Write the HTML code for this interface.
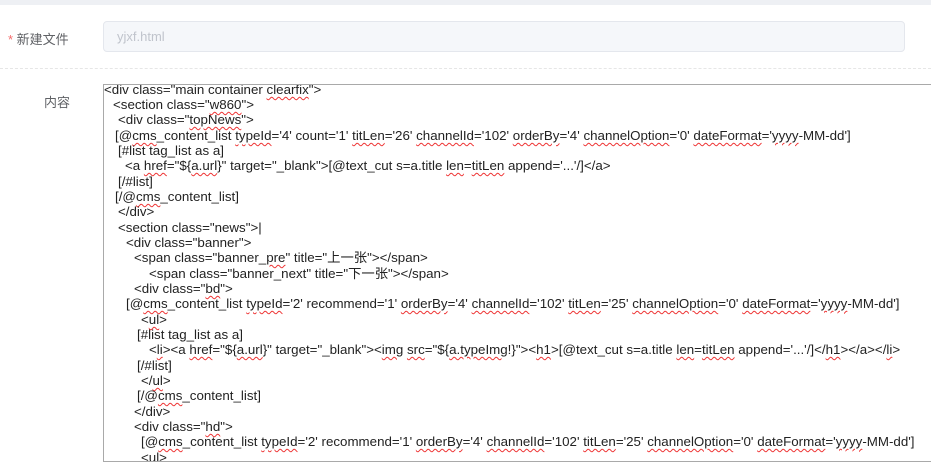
<!DOCTYPE html>
<html><head><meta charset="utf-8"><style>
body{margin:0;width:931px;height:474px;background:#fff;position:relative;overflow:hidden;font-family:"Liberation Sans","Noto Sans CJK SC",sans-serif;}
.top{position:absolute;left:0;top:0;width:931px;height:5px;background:#eef0f4;}
.lbl{position:absolute;font-size:13px;color:#606266;}
.inp{position:absolute;left:103px;top:21px;width:802px;height:31px;background:#f5f7fa;border:1px solid #e4e7ed;border-radius:4px;box-sizing:border-box;}
.inp span{position:absolute;left:13px;top:7px;font-size:13px;color:#c0c4cc;}
.dash{position:absolute;left:0;top:68px;width:931px;border-top:1px dashed #e6e6e6;}
.ta{position:absolute;left:103px;top:84px;width:840px;height:378px;border:1px solid #a9a9a9;box-sizing:border-box;overflow:hidden;}
.ta div{position:absolute;white-space:pre;font-size:13.33px;color:#222;line-height:15px;font-family:"Liberation Sans","Noto Sans CJK SC",sans-serif;}
u{text-decoration:underline wavy #e33;text-decoration-thickness:1px;text-underline-offset:2px;}
</style></head><body>
<div class="top"></div>
<div class="lbl" style="left:8px;top:29px;"><span style="color:#f56c6c">*</span> 新建文件</div>
<div class="inp"><span>yjxf.html</span></div>
<div class="dash"></div>
<div class="lbl" style="left:44px;top:92px;">内容</div>
<div class="ta">
<div style="left:0px;top:-3px">&lt;div class="main container <u>clearfix</u>"&gt;</div>
<div style="left:9px;top:12px">&lt;section class="<u>w860</u>"&gt;</div>
<div style="left:14px;top:27px">&lt;div class="<u>topNews</u>"&gt;</div>
<div style="left:11px;top:43px">[@<u>cms</u>_content_list <u>typeId</u>='4' count='1' <u>titLen</u>='26' <u>channelId</u>='102' <u>orderBy</u>='4' <u>channelOption</u>='0' <u>dateFormat</u>='<u>yyyy</u>-MM-dd']</div>
<div style="left:14px;top:58px">[#list tag_list as a]</div>
<div style="left:21px;top:73px">&lt;a <u>href</u>="${<u>a.url</u>}" target="_blank"&gt;[@text_cut s=a.title <u>len</u>=<u>titLen</u> append='...'/]&lt;/a&gt;</div>
<div style="left:14px;top:89px">[/#list]</div>
<div style="left:11px;top:104px">[/@<u>cms</u>_content_list]</div>
<div style="left:14px;top:119px">&lt;/div&gt;</div>
<div style="left:14px;top:135px">&lt;section class="news"&gt;|</div>
<div style="left:22px;top:150px">&lt;div class="banner"&gt;</div>
<div style="left:30px;top:165px">&lt;span class="banner_<u>pre</u>" title="上一张"&gt;&lt;/span&gt;</div>
<div style="left:45px;top:181px">&lt;span class="banner_next" title="下一张"&gt;&lt;/span&gt;</div>
<div style="left:30px;top:196px">&lt;div class="<u>bd</u>"&gt;</div>
<div style="left:22px;top:211px">[@<u>cms</u>_content_list <u>typeId</u>='2' recommend='1' <u>orderBy</u>='4' <u>channelId</u>='102' <u>titLen</u>='25' <u>channelOption</u>='0' <u>dateFormat</u>='<u>yyyy</u>-MM-dd']</div>
<div style="left:37px;top:227px">&lt;<u>ul</u>&gt;</div>
<div style="left:33px;top:242px">[#list tag_list as a]</div>
<div style="left:45px;top:257px">&lt;<u>li</u>&gt;&lt;a <u>href</u>="${<u>a.url</u>}" target="_blank"&gt;&lt;<u>img</u> <u>src</u>="${<u>a.typeImg</u>!}"&gt;&lt;<u>h1</u>&gt;[@text_cut s=a.title <u>len</u>=<u>titLen</u> append='...'/]&lt;/<u>h1</u>&gt;&lt;/a&gt;&lt;/<u>li</u>&gt;</div>
<div style="left:33px;top:273px">[/#list]</div>
<div style="left:37px;top:288px">&lt;/<u>ul</u>&gt;</div>
<div style="left:33px;top:303px">[/@<u>cms</u>_content_list]</div>
<div style="left:30px;top:319px">&lt;/div&gt;</div>
<div style="left:30px;top:334px">&lt;div class="<u>hd</u>"&gt;</div>
<div style="left:37px;top:349px">[@<u>cms</u>_content_list <u>typeId</u>='2' recommend='1' <u>orderBy</u>='4' <u>channelId</u>='102' <u>titLen</u>='25' <u>channelOption</u>='0' <u>dateFormat</u>='<u>yyyy</u>-MM-dd']</div>
<div style="left:37px;top:365px">&lt;<u>ul</u>&gt;</div>
</div>
</body></html>
